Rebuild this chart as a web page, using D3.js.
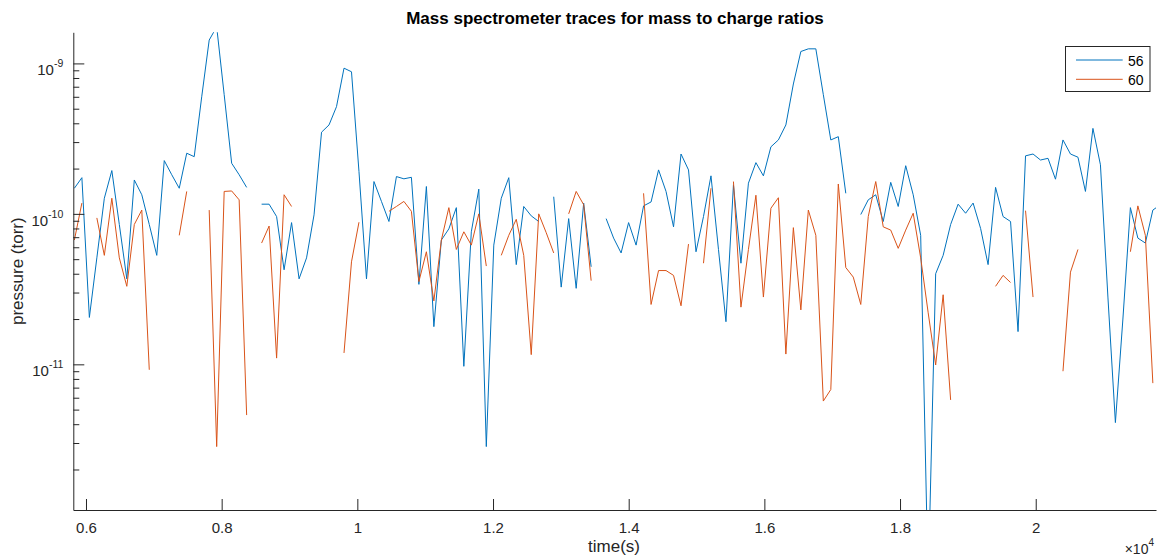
<!DOCTYPE html>
<html>
<head>
<meta charset="utf-8">
<script src="https://cdn.jsdelivr.net/npm/d3@7"></script>
<style>
  body { margin: 0; background: #fff; }
  svg { display: block; }
  text { font-family: "Liberation Sans", Arial, Helvetica, sans-serif; }
</style>
</head>
<body>
<script>
// Uniform sampling of the spectrometer scans (seconds)
const sampleStart = 5829;
const sampleStep = 110.4;

// Partial pressure (torr) for m/z 56; null = no reading in that scan
const mz56 = [
  1.48e-10, 1.74e-10, 2.05e-11, 5.1e-11, 1.27e-10, 1.94e-10, 8.5e-11, 3.7e-11, 1.68e-10, 1.34e-10,
  8.5e-11, 5.3e-11, 2.26e-10, 1.82e-10, 1.48e-10, 2.53e-10, 2.40e-10, 6.0e-10, 1.43e-9, 1.75e-9,
  6.2e-10, 2.17e-10, 1.82e-10, 1.5e-10, null, 1.16e-10, 1.16e-10, 9.6e-11, 4.25e-11, 8.75e-11,
  3.7e-11, 5.1e-11, 9.85e-11, 3.49e-10, 3.9e-10, 5.16e-10, 9.3e-10, 8.8e-10, 1.91e-10, 3.7e-11,
  1.64e-10, 1.21e-10, 8.9e-11, 1.77e-10, 1.71e-10, 1.75e-10, 3.4e-11, 1.52e-10, 1.78e-11, 6.7e-11,
  7.95e-11, 1.1e-10, 9.7e-12, 7.6e-11, 1.46e-10, 2.84e-12, 6.2e-11, 1.27e-10, 1.74e-10, 4.6e-11,
  1.12e-10, 9.7e-11, 8.9e-11, null, 1.3e-10, 3.26e-11, 9.3e-11, 3.2e-11, 1.18e-10, 4.45e-11,
  null, 9.3e-11, 6.9e-11, 5.5e-11, 8.75e-11, 6.2e-11, 1.13e-10, 1.2e-10, 1.96e-10, 1.41e-10,
  8.2e-11, 2.5e-10, 1.96e-10, 5.6e-11, 9.6e-11, 1.79e-10, 5.8e-11, 1.92e-11, 1.56e-10, 4.7e-11,
  1.6e-10, 2.19e-10, 1.79e-10, 2.79e-10, 3.1e-10, 3.9e-10, 7.3e-10, 1.2e-9, 1.25e-9, 1.25e-9,
  6.2e-10, 3.1e-10, 3.26e-10, 1.37e-10, null, 9.9e-11, 1.24e-10, 1.34e-10, 8.9e-11, 1.62e-10,
  1.12e-10, 2.09e-10, 1.34e-10, 7.2e-11, 3.5e-13, 4.0e-11, 5.3e-11, 8.5e-11, 1.16e-10, 1.01e-10,
  1.18e-10, 8.0e-11, 4.6e-11, 1.5e-10, 9.6e-11, 8.9e-11, 1.65e-11, 2.43e-10, 2.5e-10, 2.28e-10,
  2.34e-10, 1.7e-10, 3.1e-10, 2.5e-10, 2.38e-10, 1.41e-10, 3.7e-10, 2.12e-10, 2.8e-11, 4.1e-12,
  2.0e-11, 1.1e-10, 6.9e-11, 6.4e-11, 1.06e-10, 1.15e-10
];

// Partial pressure (torr) for m/z 60
const mz60 = [
  6.7e-11, 1.18e-10, null, 9.4e-11, 5.3e-11, 1.27e-10, 5.1e-11, 3.3e-11, 8.5e-11, 1.06e-10,
  9.2e-12, null, null, null, 7.2e-11, 1.41e-10, null, null, 1.06e-10, 2.84e-12,
  1.41e-10, 1.42e-10, 1.24e-10, 4.6e-12, null, 6.4e-11, 8.3e-11, 1.1e-11, 1.34e-10, 1.12e-10,
  null, null, null, null, null, null, 1.19e-11, 4.8e-11, 8.8e-11, null,
  null, null, 1.04e-10, 1.12e-10, 1.21e-10, 1.04e-10, 3.55e-11, 5.6e-11, 2.64e-11, 6.7e-11,
  1.1e-10, 5.8e-11, 7.6e-11, 6.2e-11, 1.0e-10, 4.5e-11, null, 5.3e-11, 7.2e-11, 9.2e-11,
  5.3e-11, 1.16e-11, 1.0e-10, 7.5e-11, 5.5e-11, null, 1.0e-10, 1.41e-10, 1.15e-10, 3.6e-11,
  null, null, null, null, null, null, 1.37e-10, 2.5e-11, 4.2e-11, 4.2e-11,
  3.9e-11, 2.45e-11, 6.3e-11, null, 4.7e-11, 1.48e-10, null, null, 1.64e-10, 2.4e-11,
  5.8e-11, 1.33e-10, 2.8e-11, 1.09e-10, 1.28e-10, 1.17e-11, 8.1e-11, 2.3e-11, 1.06e-10, 7.2e-11,
  5.7e-12, 6.8e-12, 1.58e-10, 4.4e-11, 3.8e-11, 2.5e-11, 9.6e-11, 1.64e-10, 8.2e-11, 7.8e-11,
  5.9e-11, 7.8e-11, 1.01e-10, 5.1e-11, 2.2e-11, 9.9e-12, 2.9e-11, 5.8e-12, null, null,
  null, null, null, 3.3e-11, 3.9e-11, 3.5e-11, null, 1.05e-10, 2.8e-11, null,
  null, null, 9.0e-12, 4.1e-11, 5.8e-11, null, null, null, null, null,
  null, 5.6e-11, 1.13e-10, 7.2e-11, 7.5e-12, null
];

const seriesNames = ["56", "60"];
const seriesColors = ["#0072BD", "#D95319"];

const xTickValues = [6000, 8000, 10000, 12000, 14000, 16000, 18000, 20000];
const xTickLabels = ["0.6", "0.8", "1", "1.2", "1.4", "1.6", "1.8", "2"];
const yTickValues = [1e-11, 1e-10, 1e-9];
const yTickExponents = ["-11", "-10", "-9"];
const yMinorTicks = [
  2e-12, 3e-12, 4e-12, 5e-12, 6e-12, 7e-12, 8e-12, 9e-12,
  2e-11, 3e-11, 4e-11, 5e-11, 6e-11, 7e-11, 8e-11, 9e-11,
  2e-10, 3e-10, 4e-10, 5e-10, 6e-10, 7e-10, 8e-10, 9e-10
];

const W = 1157, H = 558;
const plot = { left: 73.3, top: 32.3, right: 1156, bottom: 510 };
const axisColor = "#262626";

const svg = d3.select("body").append("svg")
  .attr("width", W).attr("height", H)
  .attr("viewBox", `0 0 ${W} ${H}`);

svg.append("rect").attr("width", W).attr("height", H).attr("fill", "#fff");

const x = d3.scaleLinear().domain([5813, 21773]).range([plot.left, plot.right]);
const y = d3.scaleLog().domain([1.076e-12, 1.61e-9]).range([plot.bottom, plot.top]);

svg.append("defs").append("clipPath").attr("id", "plot-clip")
  .append("rect")
  .attr("x", plot.left).attr("y", plot.top)
  .attr("width", plot.right - plot.left).attr("height", plot.bottom - plot.top);

const times = mz56.map((_, i) => sampleStart + i * sampleStep);
const series = [mz56, mz60].map((vals, s) => ({
  name: seriesNames[s],
  color: seriesColors[s],
  points: times.map((t, i) => [t, vals[i]])
}));

const line = d3.line()
  .defined(d => d[1] != null)
  .x(d => x(d[0]))
  .y(d => y(d[1]));

svg.append("g").attr("clip-path", "url(#plot-clip)")
  .selectAll("path").data(series).join("path")
  .attr("d", d => line(d.points))
  .attr("fill", "none")
  .attr("stroke", d => d.color)
  .attr("stroke-width", 1)
  .attr("stroke-linejoin", "round");

// X axis, ticks pointing inward
const gx = svg.append("g")
  .attr("transform", `translate(0,${plot.bottom})`)
  .call(d3.axisBottom(x)
    .tickValues(xTickValues)
    .tickFormat((d, i) => xTickLabels[i])
    .tickSizeInner(-11).tickSizeOuter(0).tickPadding(12));
gx.select(".domain").attr("stroke", axisColor);
gx.selectAll(".tick line").attr("stroke", axisColor);
gx.selectAll(".tick text")
  .attr("fill", axisColor).attr("font-size", 15)
  .attr("font-family", "Liberation Sans, Arial, sans-serif");

// Y axis minor ticks
const gyMinor = svg.append("g")
  .attr("transform", `translate(${plot.left},0)`)
  .call(d3.axisLeft(y).tickValues(yMinorTicks).tickFormat("")
    .tickSizeInner(-6).tickSizeOuter(0));
gyMinor.select(".domain").remove();
gyMinor.selectAll(".tick line").attr("stroke", axisColor);

// Y axis major ticks with power-of-ten labels
const gy = svg.append("g")
  .attr("transform", `translate(${plot.left},0)`)
  .call(d3.axisLeft(y).tickValues(yTickValues)
    .tickSizeInner(-11).tickSizeOuter(0).tickPadding(10));
gy.select(".domain").attr("stroke", axisColor);
gy.selectAll(".tick line").attr("stroke", axisColor);
gy.selectAll(".tick text").each(function (d, i) {
  const t = d3.select(this);
  t.text(null)
    .attr("fill", axisColor).attr("font-size", 15)
    .attr("font-family", "Liberation Sans, Arial, sans-serif")
    .attr("dy", "0.77em");
  t.append("tspan").text("10");
  t.append("tspan").attr("font-size", 10.5).attr("dy", "-0.8em").text(yTickExponents[i]);
});

// Exponent multiplier for the time axis
const mult = svg.append("text")
  .attr("x", 1154).attr("y", 554)
  .attr("text-anchor", "end")
  .attr("fill", axisColor).attr("font-size", 14);
mult.append("tspan").text("\u00d710");
mult.append("tspan").attr("font-size", 10).attr("dy", "-0.8em").text("4");

// Title and axis labels
svg.append("text")
  .attr("x", 615).attr("y", 24)
  .attr("text-anchor", "middle")
  .attr("font-size", 17).attr("font-weight", "bold").attr("fill", "#000")
  .text("Mass spectrometer traces for mass to charge ratios");

svg.append("text")
  .attr("x", 614).attr("y", 552)
  .attr("text-anchor", "middle")
  .attr("font-size", 17).attr("fill", axisColor)
  .text("time(s)");

svg.append("text")
  .attr("transform", `translate(23,${(plot.top + plot.bottom) / 2}) rotate(-90)`)
  .attr("text-anchor", "middle")
  .attr("font-size", 17).attr("fill", axisColor)
  .text("pressure (torr)");

// Legend
const legend = svg.append("g");
legend.append("rect")
  .attr("x", 1065.5).attr("y", 46.5).attr("width", 84.5).attr("height", 45)
  .attr("fill", "#fff").attr("stroke", axisColor).attr("stroke-width", 1);
series.forEach((s, i) => {
  const ly = 60 + i * 19.3;
  legend.append("line")
    .attr("x1", 1076).attr("x2", 1122.7).attr("y1", ly).attr("y2", ly)
    .attr("stroke", s.color).attr("stroke-width", 1);
  legend.append("text")
    .attr("x", 1128).attr("y", ly + 5.5)
    .attr("font-size", 14).attr("fill", "#000")
    .text(s.name);
});
</script>
</body>
</html>
